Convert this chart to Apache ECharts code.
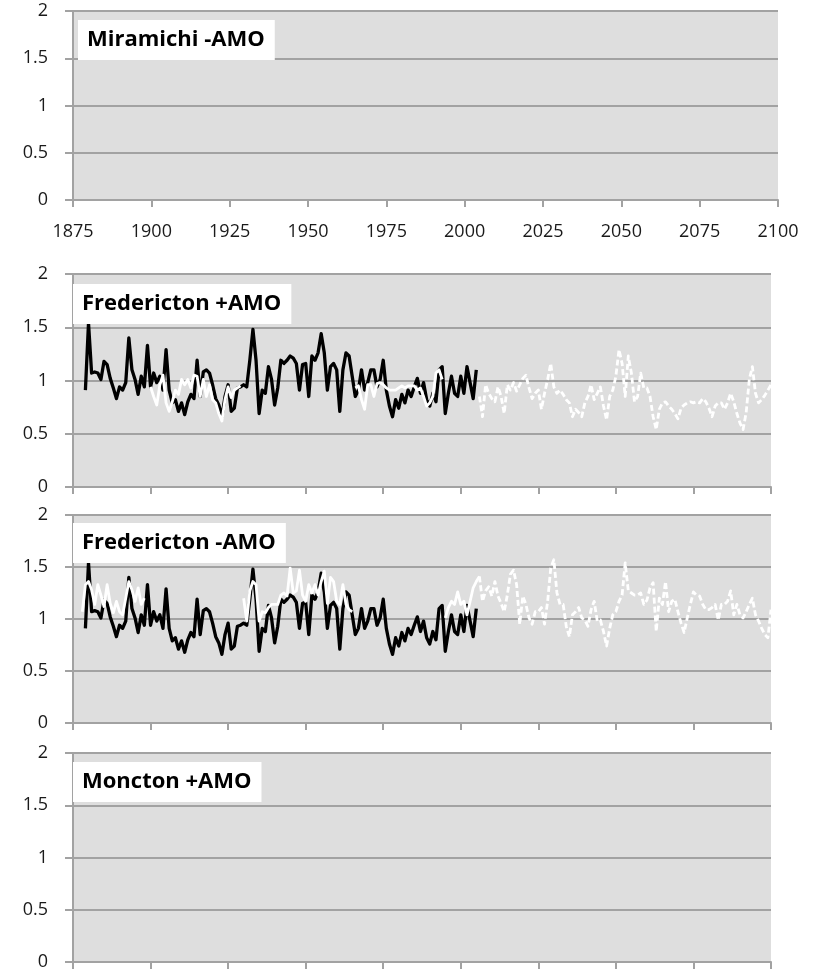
<!DOCTYPE html>
<html>
<head>
<meta charset="utf-8">
<script src="https://cdn.jsdelivr.net/npm/echarts@6/dist/echarts.min.js"></script>
<style>
  html, body { margin: 0; padding: 0; background: #fff; }
  #chart { width: 815px; height: 974px; }
</style>
</head>
<body>
<div id="chart"></div>
<script>
// panel titles
var panelTitles = ['Miramichi -AMO', 'Fredericton +AMO', 'Fredericton -AMO', 'Moncton +AMO'];

// x axis: years
var yearMin = 1875, yearMax = 2100, yearStep = 25;
// y axis
var valueMin = 0, valueMax = 2, valueStep = 0.5;

// observed Fredericton series (black), yearly from 1879
var obsStart = 1879;
var obsValues = [
    0.91, 1.54, 1.07, 1.08, 1.07, 1.01, 1.18, 1.15, 1.02, 0.93,
    0.83, 0.94, 0.91, 0.98, 1.40, 1.10, 1.01, 0.87, 1.04, 0.94,
    1.33, 0.94, 1.07, 0.98, 1.04, 0.91, 1.29, 0.91, 0.79, 0.82,
    0.71, 0.79, 0.68, 0.80, 0.87, 0.83, 1.19, 0.85, 1.08, 1.10,
    1.07, 0.96, 0.83, 0.77, 0.66, 0.85, 0.96, 0.71, 0.74, 0.93,
    0.94, 0.96, 0.94, 1.19, 1.48, 1.19, 0.69, 0.91, 0.88, 1.13,
    1.01, 0.77, 0.93, 1.19, 1.16, 1.19, 1.23, 1.21, 1.16, 0.91,
    1.15, 1.16, 0.85, 1.23, 1.19, 1.26, 1.44, 1.26, 0.91, 1.13,
    1.16, 1.10, 0.71,
    1.10, 1.26, 1.23, 1.04, 0.85, 0.91, 1.10, 0.91, 0.98, 1.10,
    1.10, 0.94, 1.01, 1.19, 0.91, 0.76, 0.66, 0.82, 0.74, 0.87,
    0.79, 0.91, 0.85, 0.94, 1.02, 0.88, 0.98, 0.82, 0.76, 0.88,
    0.80, 1.10, 1.13, 0.69, 0.88, 1.04, 0.88, 0.85, 1.04, 0.88,
    1.13, 0.98, 0.83, 1.10
];

// Fredericton +AMO model (white)
var plusEarlyStart = 1900;
var plusEarly = [
    0.94, 0.85, 0.77, 0.96, 1.05, 0.79, 0.71, 0.80, 0.91, 0.87,
    1.01, 0.96, 1.01, 0.93, 1.05, 1.04, 0.85, 1.01, 0.85, 0.96,
    0.82, 0.79, 0.69, 0.62, 0.82, 0.94, 0.84, 0.91, 0.93, 0.95
];
var plusLateStart = 1966;
var plusLate = [
    0.93, 0.95, 0.82, 0.73, 0.96, 0.96, 0.85, 0.97, 0.98, 0.96,
    0.93, 0.91, 0.91, 0.91, 0.93, 0.95, 0.93, 0.95, 0.95, 0.95,
    0.91, 0.93, 0.85, 0.76, 0.79, 0.85, 1.07, 1.10, 1.01
];
var plusProjStart = 2006;
var plusProj = [
    0.85, 0.66, 0.96, 0.88, 0.83, 0.80, 0.94, 0.85, 0.69, 0.96,
    0.91, 0.98, 0.90, 0.96, 1.02, 1.05, 0.93, 0.83, 0.88, 0.91,
    0.73, 0.88, 1.01, 1.16, 0.94, 0.88, 0.91, 0.87, 0.82, 0.79,
    0.66, 0.73, 0.70, 0.66, 0.79, 0.85, 0.96, 0.82, 0.88, 0.94,
    0.76, 0.63, 0.85, 0.91, 1.04,
    1.29, 1.16, 0.85, 1.23, 1.07, 0.80, 0.85, 1.07, 0.93, 0.93,
    0.85, 0.66, 0.54, 0.73, 0.79, 0.80, 0.76, 0.73, 0.69, 0.64,
    0.74, 0.77, 0.79, 0.80, 0.79, 0.80, 0.79, 0.83, 0.80, 0.74,
    0.66, 0.76, 0.79, 0.79, 0.73, 0.79, 0.88, 0.80, 0.69, 0.60,
    0.54, 0.70, 1.01, 1.13, 0.88, 0.79, 0.82, 0.86, 0.91, 0.96
];

// Fredericton -AMO model (white)
var minusEarlyStart = 1878;
var minusEarly = [
    1.07, 1.33, 1.36, 1.28, 1.14, 1.33, 1.23, 1.12, 1.33, 1.15,
    1.06, 1.17, 1.07, 1.04, 1.20, 1.36, 1.28, 1.17, 1.30, 1.14,
    1.20
];
var minusMidStart = 1930;
var minusMid = [
    1.20, 0.98, 1.27, 1.36, 1.33, 0.98, 1.07, 1.06, 1.11, 1.14,
    1.14, 1.14, 1.23, 1.25, 1.22, 1.49, 1.25, 1.27, 1.47, 1.23,
    1.17, 1.33, 1.25, 1.33, 1.23, 1.36, 1.46, 1.15, 1.40, 1.36,
    1.17, 1.14, 1.33, 1.14, 1.09, 1.07
];
var minusLateStart = 1995;
var minusLate = [
    1.01, 1.11, 1.17, 1.14, 1.26, 1.14, 1.17, 1.04, 1.17, 1.30,
    1.36, 1.41
];
var minusProjStart = 2006;
var minusProj = [
    1.41, 1.17, 1.27, 1.31, 1.22, 1.36,
    1.22, 1.15, 1.07, 1.23, 1.43,
    1.47, 1.33, 0.95, 1.22, 1.14,
    1.01, 0.95, 1.07, 1.07, 1.11,
    0.95, 1.17, 1.49, 1.57, 1.25,
    1.14, 1.14, 0.93, 0.83, 1.04,
    1.07, 1.11, 1.01, 0.99, 0.93,
    1.09, 1.17, 0.98, 0.99, 0.88,
    0.74, 0.91, 1.04, 1.07, 1.17,
    1.23, 1.54, 1.27, 1.25, 1.23,
    1.23, 1.25, 1.14, 1.18, 1.30,
    1.35, 0.88, 1.20, 1.14, 1.36,
    1.07, 1.17, 1.19, 1.07, 0.96,
    0.87, 1.01, 1.14, 1.26, 1.23,
    1.22, 1.14, 1.09, 1.09, 1.11,
    1.14, 0.99, 1.14, 1.14, 1.17,
    1.27, 1.04, 1.14, 1.04, 1.01,
    1.07, 1.14, 1.20, 1.04, 0.98,
    0.91, 0.85, 0.82, 1.09
];

function pairs(start, values) {
    return values.map(function (v, i) { return [start + i, v]; });
}

var gridColor = '#a2a2a2';
var numFont = 'Open Sans';
var grids = [
    {left: 73, top: 11, width: 705, height: 189},
    {left: 73, top: 274, width: 698, height: 213},
    {left: 73, top: 515, width: 698, height: 208},
    {left: 73, top: 753, width: 698, height: 209}
];
var titlePos = [[78, 20], [73, 284], [73, 523], [73, 762]];

var xAxes = [], yAxes = [], titles = [];
grids.forEach(function (g, i) {
    g.show = true;
    g.backgroundColor = '#dedede';
    g.borderWidth = 0;
    xAxes.push({
        gridIndex: i,
        type: 'value',
        min: yearMin,
        max: yearMax,
        interval: yearStep,
        axisLine: {lineStyle: {color: gridColor, width: 2}},
        axisTick: {show: true, length: 7, lineStyle: {color: gridColor, width: 2}},
        axisLabel: {
            show: i === 0, margin: 23, fontSize: 18, color: '#1a1a1a', fontFamily: numFont,
            formatter: function (v) { return String(v); }
        },
        splitLine: {show: false}
    });
    yAxes.push({
        gridIndex: i,
        type: 'value',
        min: valueMin,
        max: valueMax,
        interval: valueStep,
        axisLine: {show: true, lineStyle: {color: gridColor, width: 2}},
        axisTick: {show: true, length: 8, lineStyle: {color: gridColor, width: 2}},
        axisLabel: {margin: 25, fontSize: 18, color: '#1a1a1a', fontFamily: numFont},
        splitLine: {show: true, lineStyle: {color: gridColor, width: 2}}
    });
    titles.push({
        text: panelTitles[i],
        left: titlePos[i][0],
        top: titlePos[i][1],
        backgroundColor: '#ffffff',
        padding: [8, 10, 8, 9],
        textStyle: {fontFamily: 'Open Sans', fontWeight: 'bold', fontSize: 22, lineHeight: 24, color: '#000'}
    });
});

function line(idx, data, color, width, dashed, z) {
    return {
        type: 'line',
        xAxisIndex: idx,
        yAxisIndex: idx,
        data: data,
        showSymbol: false,
        symbol: 'none',
        z: z,
        lineStyle: {color: color, width: width, type: dashed ? [6, 3] : 'solid', join: 'round'}
    };
}

var series = [
    line(1, pairs(obsStart, obsValues), '#000', 3.3, false, 2),
    line(1, pairs(plusEarlyStart, plusEarly), '#fff', 2.8, false, 3),
    line(1, pairs(plusLateStart, plusLate), '#fff', 2.8, false, 3),
    line(1, pairs(plusProjStart, plusProj), '#fff', 2.8, true, 3),
    line(2, pairs(obsStart, obsValues), '#000', 3.3, false, 2),
    line(2, pairs(minusEarlyStart, minusEarly), '#fff', 2.8, false, 3),
    line(2, pairs(minusMidStart, minusMid), '#fff', 2.8, false, 3),
    line(2, pairs(minusLateStart, minusLate), '#fff', 2.8, false, 3),
    line(2, pairs(minusProjStart, minusProj), '#fff', 2.8, true, 3)
];

var myChart = echarts.init(document.getElementById('chart'));
myChart.setOption({
    animation: false,
    title: titles,
    grid: grids,
    xAxis: xAxes,
    yAxis: yAxes,
    series: series
});
</script>
</body>
</html>
